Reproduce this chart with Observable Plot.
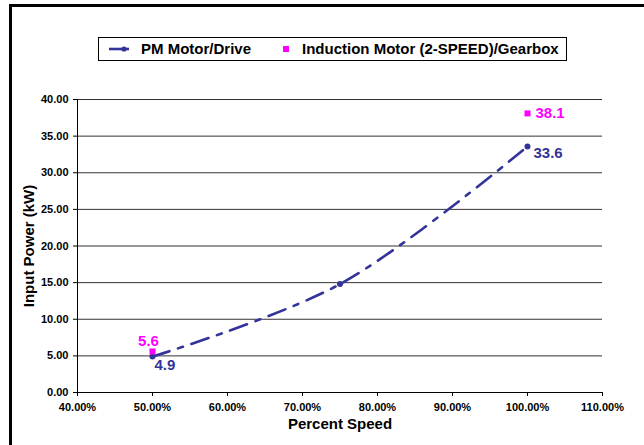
<!DOCTYPE html>
<html>
<head>
<meta charset="utf-8">
<script src="https://cdn.jsdelivr.net/npm/d3@7"></script>
<script src="https://cdn.jsdelivr.net/npm/@observablehq/plot@0.6"></script>
<style>
  html, body { margin: 0; padding: 0; background: #fff; overflow: hidden; }
  #wrap { position: relative; width: 644px; height: 445px; font-family: "Liberation Sans", Arial, sans-serif; }
  #frame { position: absolute; left: 9px; top: 4px; width: 800px; height: 600px; border-left: 3px solid #000; border-top: 3px solid #000; box-sizing: border-box; pointer-events: none; }
  #legend { position: absolute; left: 98px; top: 37px; width: 469px; height: 24px; border: 1px solid #000; background: #fff; box-sizing: border-box; font-weight: bold; font-size: 15px; }
  #legend .item { position: absolute; top: 2px; white-space: nowrap; line-height: 18px; }
  #legend svg { position: absolute; }
</style>
</head>
<body>
<div id="wrap">
  <div id="chart"></div>
  <div id="frame"></div>
  <div id="legend"></div>
</div>
<script>
// ---- data ----
const pmSpeed = [50, 75, 100];
const pmPower = [4.9, 14.8, 33.6];
const imSpeed = [50, 100];
const imPower = [5.6, 38.1];
const xTicks = [40, 50, 60, 70, 80, 90, 100, 110];
const yTicks = [0, 5, 10, 15, 20, 25, 30, 35, 40];
const seriesNames = ["PM Motor/Drive", "Induction Motor (2-SPEED)/Gearbox"];
const xLabel = "Percent Speed";
const yLabel = "Input Power (kW)";

const pm = pmSpeed.map((s, i) => ({speed: s, power: pmPower[i]}));
const im = imSpeed.map((s, i) => ({speed: s, power: imPower[i]}));
const pmLow = pm.filter(d => d.speed === 50);
const pmHigh = pm.filter(d => d.speed === 100);
const imLow = im.filter(d => d.speed === 50);
const imHigh = im.filter(d => d.speed === 100);

const navy = "#333399";
const magenta = "#ff00ff";

const chart = Plot.plot({
  width: 644,
  height: 445,
  marginLeft: 77,
  marginRight: 42,
  marginTop: 99,
  marginBottom: 53,
  style: {fontFamily: "'Liberation Sans', Arial, sans-serif", fontSize: "11px", fontWeight: "bold", color: "#000", background: "transparent"},
  x: {domain: [40, 110]},
  y: {domain: [0, 40]},
  marks: [
    Plot.gridY(yTicks, {stroke: "#333", strokeOpacity: 1, strokeWidth: 1}),
    Plot.ruleX([40], {stroke: "#000", strokeWidth: 1}),
    Plot.ruleY([0], {stroke: "#000", strokeWidth: 1}),
    Plot.axisY(yTicks, {tickFormat: d => d.toFixed(2), tickSize: 4, tickPadding: 5, label: null, stroke: "#000"}),
    Plot.axisX(xTicks, {tickFormat: d => d.toFixed(2) + "%", tickSize: 4, tickPadding: 7, label: null, stroke: "#000"}),
    Plot.text([xLabel], {frameAnchor: "bottom", textAnchor: "middle", dy: 36, fontSize: 15, fontWeight: "bold", fill: "#000"}),
    Plot.text([yLabel], {frameAnchor: "left", textAnchor: "middle", rotate: -90, dx: -48, fontSize: 15, fontWeight: "bold", fill: "#000"}),
    Plot.line(pm, {x: "speed", y: "power", curve: "catmull-rom", stroke: navy, strokeWidth: 2.6, strokeDasharray: "18,9,5,9"}),
    Plot.dot(pm, {x: "speed", y: "power", r: 3, fill: navy, stroke: "none"}),
    Plot.dot(im, {x: "speed", y: "power", symbol: "square", r: 3.4, fill: magenta, stroke: "none"}),
    Plot.text(pmLow, {x: "speed", y: "power", text: d => d.power.toFixed(1), textAnchor: "start", dx: 2, dy: 9, fill: navy, fontSize: 15, fontWeight: "bold"}),
    Plot.text(pmHigh, {x: "speed", y: "power", text: d => d.power.toFixed(1), textAnchor: "start", dx: 6, dy: 7, fill: navy, fontSize: 15, fontWeight: "bold"}),
    Plot.text(imLow, {x: "speed", y: "power", text: d => d.power.toFixed(1), textAnchor: "middle", dx: -4, dy: -10, fill: magenta, fontSize: 15, fontWeight: "bold"}),
    Plot.text(imHigh, {x: "speed", y: "power", text: d => d.power.toFixed(1), textAnchor: "start", dx: 8, dy: 0, fill: magenta, fontSize: 15, fontWeight: "bold"})
  ]
});
document.getElementById("chart").appendChild(chart);

// legend (HTML overlay)
const legend = document.getElementById("legend");
legend.innerHTML = `
  <svg width="24" height="10" style="left:9px;top:6px"><line x1="1" y1="5" x2="21" y2="5" stroke="${navy}" stroke-width="2.6"/><circle cx="16" cy="5" r="2.6" fill="${navy}"/></svg>
  <span class="item" style="left:42px">${seriesNames[0]}</span>
  <svg width="8" height="8" style="left:184px;top:8px"><rect x="0" y="0" width="6" height="6" fill="${magenta}"/></svg>
  <span class="item" style="left:203px">${seriesNames[1]}</span>
`;
</script>
</body>
</html>
